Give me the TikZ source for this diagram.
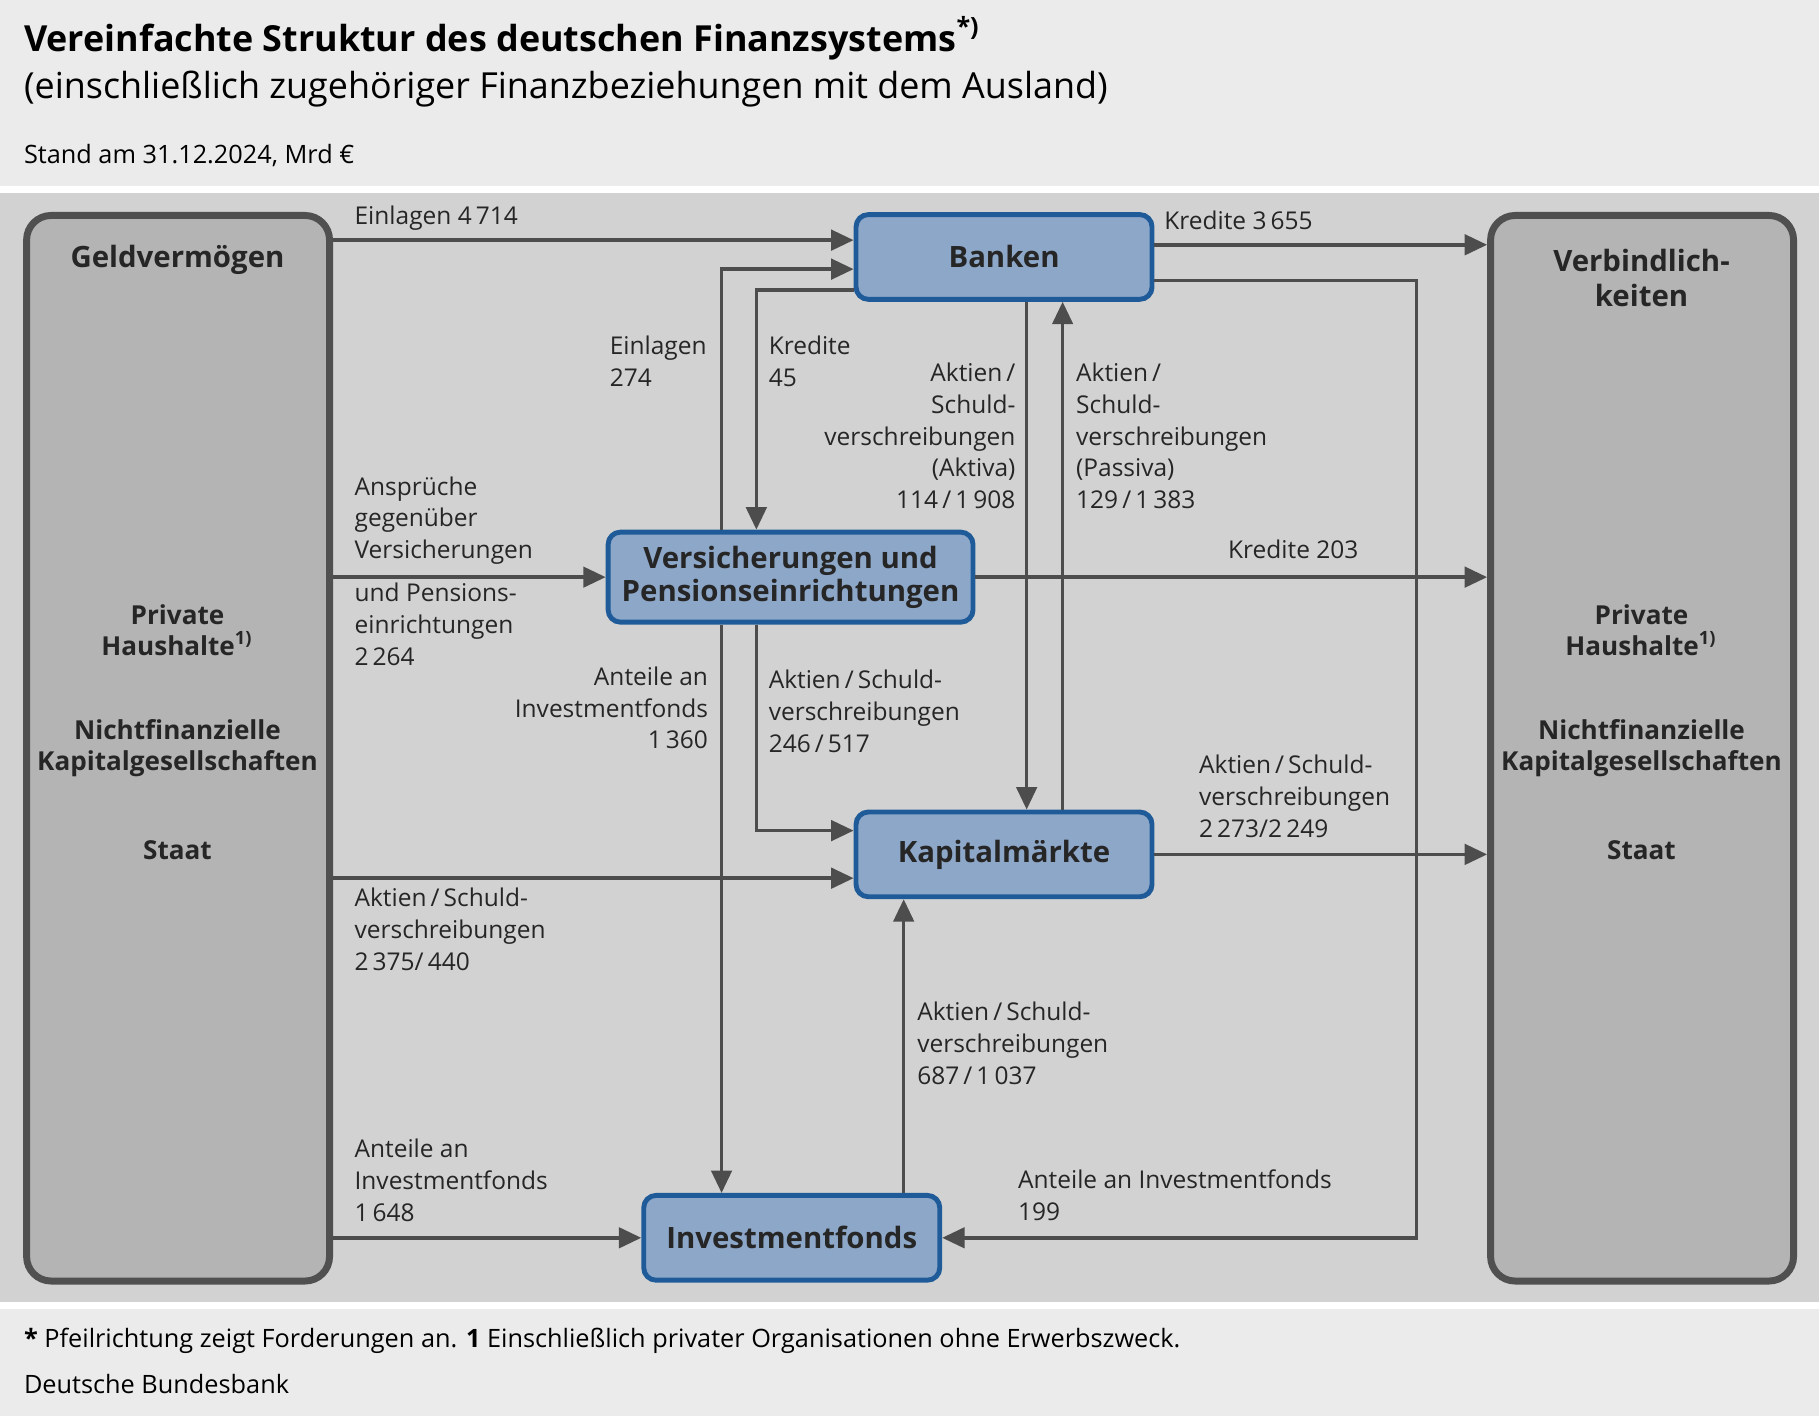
\documentclass[tikz,border=0pt]{standalone}
\usepackage{fontspec}
\setmainfont{Open Sans}
\usetikzlibrary{arrows.meta}
\definecolor{pagegray}{HTML}{EBEBEB}
\definecolor{panelgray}{HTML}{D2D2D2}
\definecolor{sidegray}{HTML}{B4B4B4}
\definecolor{sideline}{HTML}{505050}
\definecolor{boxblue}{HTML}{8DA7C9}
\definecolor{boxline}{HTML}{1F5B99}
\definecolor{flowgray}{HTML}{4D4D4D}
\begin{document}
\begin{tikzpicture}[x=0.01cm,y=-0.01cm,
    side_box/.style={draw=sideline,fill=sidegray,line width=1.7pt,rounded corners=6pt,minimum width=2.61cm,minimum height=9.18cm},
    sector_box/.style={draw=boxline,fill=boxblue,line width=1.2pt,rounded corners=3pt,minimum height=0.73cm,font=\fontsize{7.2}{8.2}\selectfont\bfseries,text=black!85,align=center},
    side_text/.style={font=\fontsize{6.4}{7.6}\selectfont\bfseries,align=center,text=black!85},
    flow_label/.style={font=\fontsize{6}{7.8}\selectfont,text=black!85,inner sep=0pt},
    flow/.style={draw=flowgray,line width=0.85pt,-{Triangle[length=5.5pt,width=5pt]}},
    flow_line/.style={draw=flowgray,line width=0.85pt}]
  % backgrounds
  \fill[pagegray] (0,0) rectangle (1568,1221);
  \fill[white] (0,160) rectangle (1568,166);
  \fill[panelgray] (0,166) rectangle (1568,1122);
  \fill[white] (0,1122) rectangle (1568,1128);
  % titles
  \node[anchor=west,inner sep=0pt,font=\fontsize{8.8}{10}\selectfont\bfseries] (title) at (20,33) {Vereinfachte Struktur des deutschen Finanzsystems\textsuperscript{*)}};
  \node[anchor=west,inner sep=0pt,font=\fontsize{8.8}{10}\selectfont] (subtitle) at (20,77) {(einschließlich zugehöriger Finanzbeziehungen mit dem Ausland)};
  \node[anchor=west,inner sep=0pt,font=\fontsize{6.2}{7}\selectfont] (stand) at (20,134) {Stand am 31.12.2024, Mrd €};
  \node[anchor=west,inner sep=0pt,font=\fontsize{6.2}{7}\selectfont] (note) at (20,1156) {\textbf{*} Pfeilrichtung zeigt Forderungen an. \textbf{1} Einschließlich privater Organisationen ohne Erwerbszweck.};
  \node[anchor=west,inner sep=0pt,font=\fontsize{6.2}{7}\selectfont] (source) at (20,1193) {Deutsche Bundesbank};
  % side boxes
  \node[side_box] (assets) at (153.5,645) {};
  \node[side_box] (liabs) at (1415.5,645) {};
  \node[side_text,font=\fontsize{7.2}{8.6}\selectfont\bfseries] at (153,224) {Geldvermögen};
  \node[side_text,font=\fontsize{7.2}{8.6}\selectfont\bfseries] at (1415,240) {Verbindlich-\\keiten};
  \foreach \xc in {153,1415}{
    \node[side_text] at (\xc,543) {Private\\Haushalte\textsuperscript{1)}};
    \node[side_text] at (\xc,645) {Nichtfinanzielle\\Kapitalgesellschaften};
    \node[side_text] at (\xc,733) {Staat};
  }
  % sector boxes
  \node[sector_box,minimum width=2.55cm] (banks) at (865.5,221.5) {Banken};
  \node[sector_box,minimum width=3.07cm] (insur) at (681.5,497.5) {Versicherungen und\\Pensionseinrichtungen};
  \node[sector_box,minimum width=2.55cm] (capmkt) at (865.5,736.5) {Kapitalmärkte};
  \node[sector_box,minimum width=2.55cm] (funds) at (682.5,1067) {Investmentfonds};
  % helper coordinates
  \coordinate (c_a) at (622,232);
  \coordinate (c_b) at (652,250);
  \coordinate (c_c) at (652,716);
  \coordinate (c_d) at (1221,242);
  \coordinate (c_e) at (1221,1067);
  % flows
  \draw[flow] (assets.east |- 0,207) -- (banks.west |- 0,207);
  \draw[flow] (banks.east |- 0,211) -- (liabs.west |- 0,211);
  \draw[flow] (assets.east |- insur.west) -- (insur.west);
  \draw[flow] (insur.north -| c_a) -- (c_a) -- (banks.west |- c_a);
  \draw[flow] (banks.west |- c_b) -- (c_b) -- (insur.north -| c_b);
  \draw[flow] (insur.south -| c_a) -- (funds.north -| c_a);
  \draw[flow] (insur.south -| c_b) -- (c_c) -- (capmkt.west |- c_c);
  \draw[flow] (banks.south -| 885,0) -- (capmkt.north -| 885,0);
  \draw[flow] (capmkt.north -| 916,0) -- (banks.south -| 916,0);
  \draw[flow] (insur.east) -- (liabs.west |- insur.east);
  \draw[flow] (capmkt.east) -- (liabs.west |- capmkt.east);
  \draw[flow] (assets.east |- 0,757) -- (capmkt.west |- 0,757);
  \draw[flow] (funds.north -| 779,0) -- (capmkt.south -| 779,0);
  \draw[flow] (assets.east |- funds.west) -- (funds.west);
  \draw[flow] (banks.east |- c_d) -- (c_d) -- (c_e) -- (funds.east);
  % labels
  \node[flow_label,anchor=north west,align=left] at (305,177) {Einlagen 4\,714};
  \node[flow_label,anchor=north west,align=left] at (1003,181) {Kredite 3\,655};
  \node[flow_label,anchor=north west,align=left] at (525,289) {Einlagen\\274};
  \node[flow_label,anchor=north west,align=left] at (662,289) {Kredite\\45};
  \node[flow_label,anchor=north east,align=right] at (876,312) {Aktien\,/\\Schuld-\\verschreibungen\\(Aktiva)\\114\,/\,1\,908};
  \node[flow_label,anchor=north west,align=left] at (927,312) {Aktien\,/\\Schuld-\\verschreibungen\\(Passiva)\\129\,/\,1\,383};
  \node[flow_label,anchor=north west,align=left] at (305,410) {Ansprüche\\gegenüber\\Versicherungen};
  \node[flow_label,anchor=north west,align=left] at (305,502) {und Pensions-\\einrichtungen\\2\,264};
  \node[flow_label,anchor=north west,align=left] at (1058,465) {Kredite 203};
  \node[flow_label,anchor=north east,align=right] at (611,574) {Anteile an\\Investmentfonds\\1\,360};
  \node[flow_label,anchor=north west,align=left] at (662,577) {Aktien\,/\,Schuld-\\verschreibungen\\246\,/\,517};
  \node[flow_label,anchor=north west,align=left] at (1033,650) {Aktien\,/\,Schuld-\\verschreibungen\\2\,273/2\,249};
  \node[flow_label,anchor=north west,align=left] at (305,765) {Aktien\,/\,Schuld-\\verschreibungen\\2\,375/\,440};
  \node[flow_label,anchor=north west,align=left] at (790,863) {Aktien\,/\,Schuld-\\verschreibungen\\687\,/\,1\,037};
  \node[flow_label,anchor=north west,align=left] at (305,981) {Anteile an\\Investmentfonds\\1\,648};
  \node[flow_label,anchor=north west,align=left] at (877,1008) {Anteile an Investmentfonds\\199};
\end{tikzpicture}
\end{document}
